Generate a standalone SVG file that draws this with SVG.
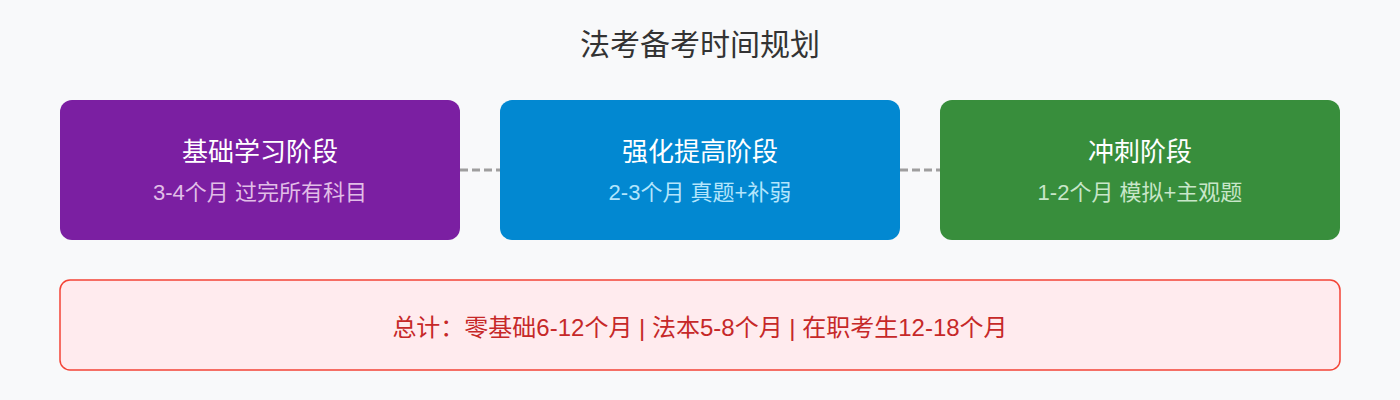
<svg xmlns="http://www.w3.org/2000/svg" width="1400" height="400" viewBox="0 0 1400 400">
<style>
.title{font-family:"Liberation Sans","Noto Sans CJK SC",sans-serif;font-size:30px;fill:#333333;text-anchor:middle}
.nt{font-family:"Liberation Sans","Noto Sans CJK SC",sans-serif;font-size:26px;fill:#ffffff;text-anchor:middle}
.ns{font-family:"Liberation Sans","Noto Sans CJK SC",sans-serif;font-size:22px;text-anchor:middle}
.conn{stroke:#9E9E9E;stroke-width:3;stroke-dasharray:8 4;fill:none}
.sum{font-family:"Liberation Sans","Noto Sans CJK SC",sans-serif;font-size:24px;fill:#C62828;text-anchor:middle}
</style>
<rect width="1400" height="400" fill="#F8F9FA"/>
<text class="title" x="700" y="55">法考备考时间规划</text>
<g id="connectors">
<line class="conn" x1="460" y1="170" x2="500" y2="170"/>
<line class="conn" x1="900" y1="170" x2="940" y2="170"/>
</g>
<g id="node-basic">
<rect x="60" y="100" width="400" height="140" rx="12" fill="#7B1FA2"/>
<text class="nt" x="260" y="161">基础学习阶段</text>
<text class="ns" x="260" y="200" fill="#E1BEE7">3-4个月 过完所有科目</text>
</g>
<g id="node-strengthen">
<rect x="500" y="100" width="400" height="140" rx="12" fill="#0288D1"/>
<text class="nt" x="700" y="161">强化提高阶段</text>
<text class="ns" x="700" y="200" fill="#B3E5FC">2-3个月 真题+补弱</text>
</g>
<g id="node-sprint">
<rect x="940" y="100" width="400" height="140" rx="12" fill="#388E3C"/>
<text class="nt" x="1140" y="161">冲刺阶段</text>
<text class="ns" x="1140" y="200" fill="#C8E6C9">1-2个月 模拟+主观题</text>
</g>
<g id="summary">
<rect x="60" y="280" width="1280" height="90" rx="10" fill="#FFEBEE" stroke="#F44336" stroke-width="1.5"/>
<text class="sum" x="700" y="336">总计：零基础6-12个月 | 法本5-8个月 | 在职考生12-18个月</text>
</g>
</svg>
